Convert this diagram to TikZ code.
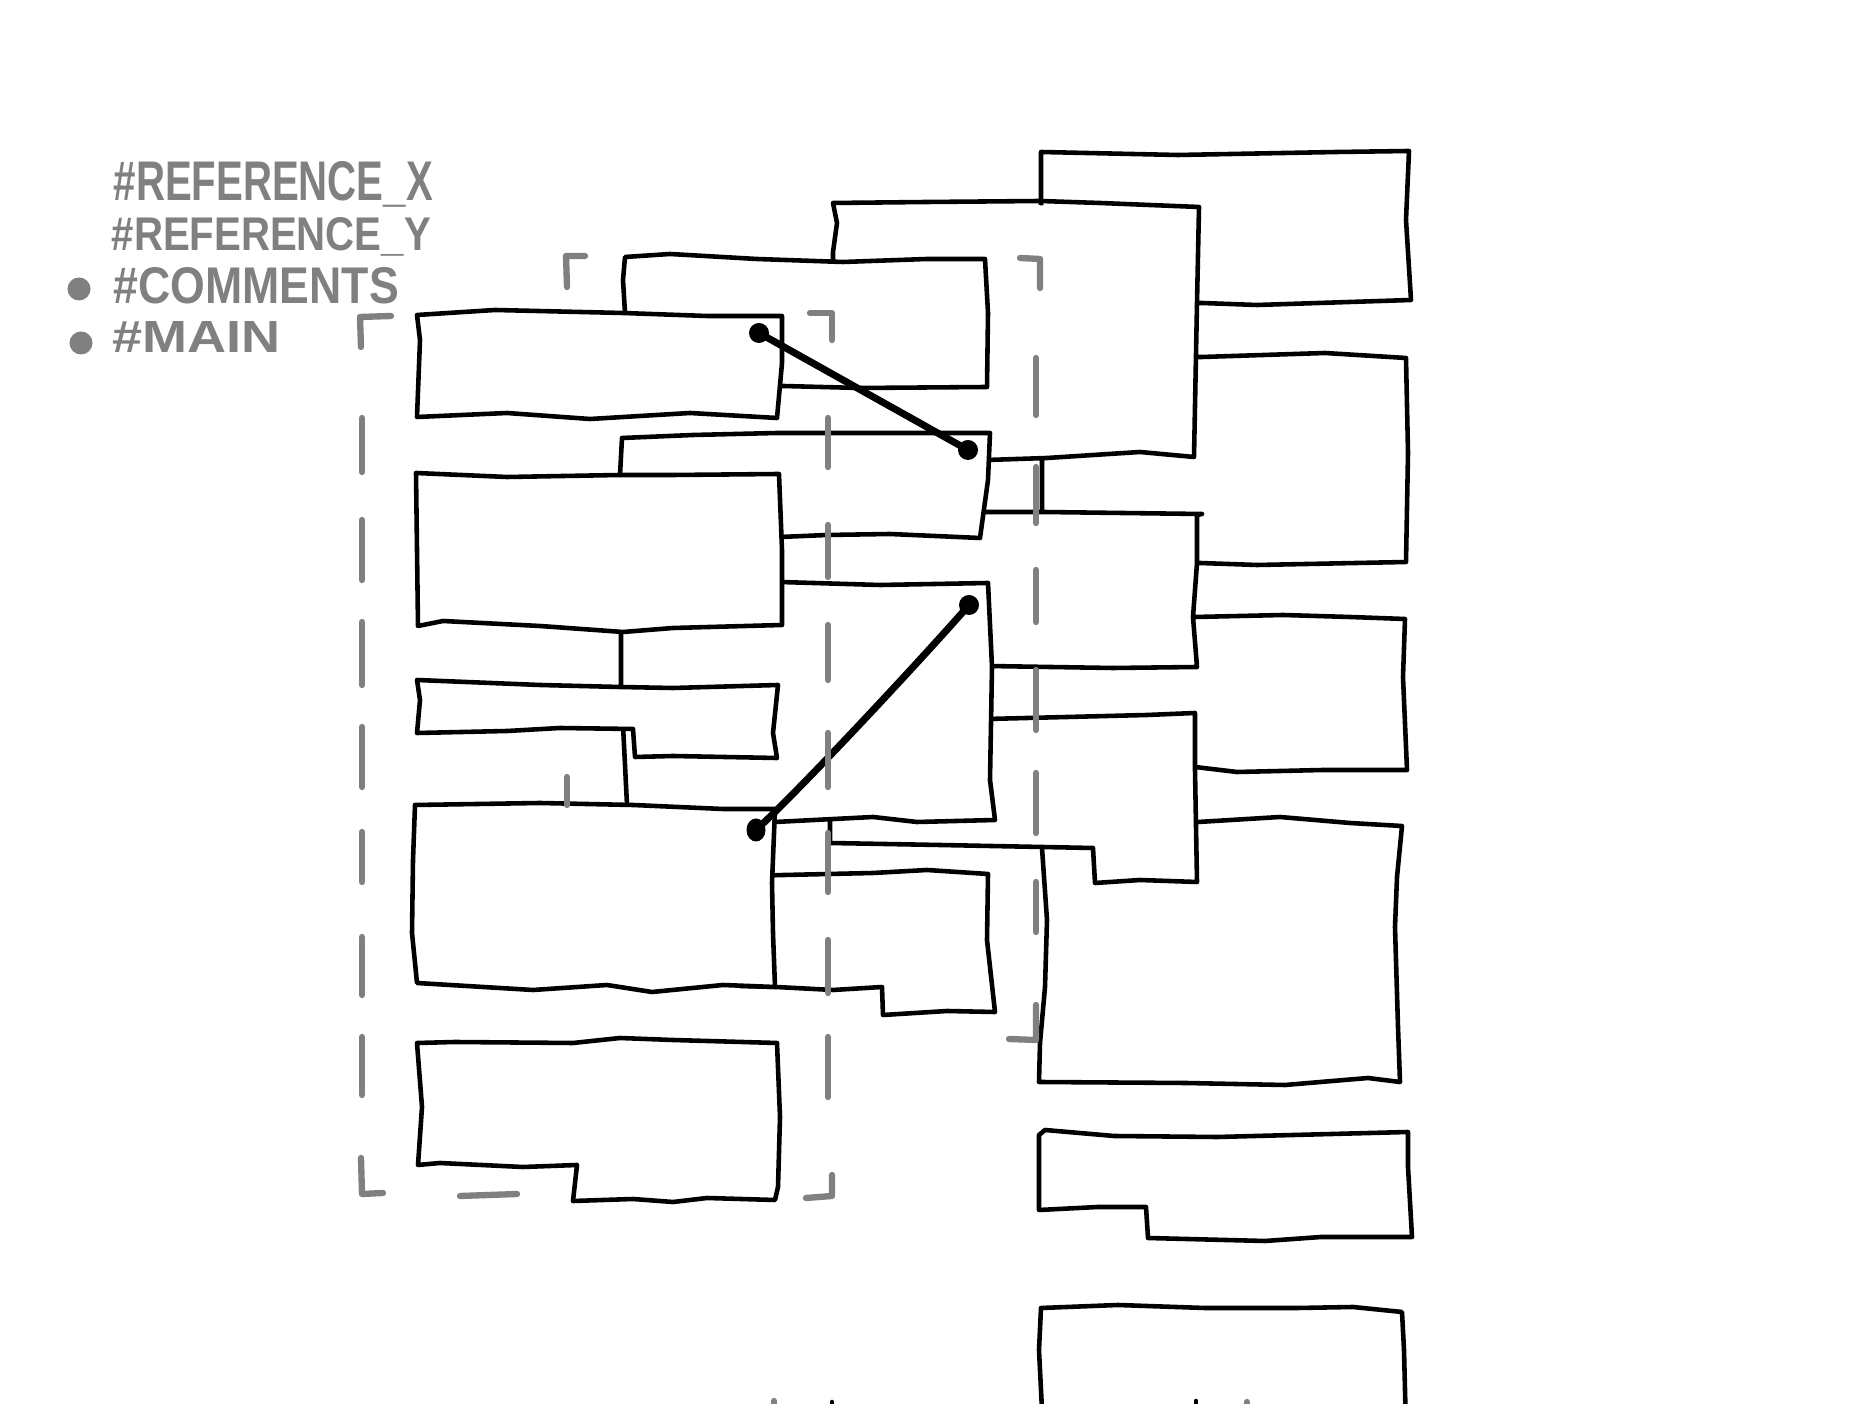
\documentclass[tikz,border=0pt]{standalone}
\usepackage{fontspec}
\usetikzlibrary{shapes.geometric}
\newfontfamily\legendfont{Liberation Sans}
\definecolor{sketchgray}{gray}{0.5}
\begin{document}
\begin{tikzpicture}[x=0.01cm,y=-0.01cm,
  sketchbox/.style={draw=black,fill=white,line width=1.3pt,line join=round,line cap=round},
  boxline/.style={draw=black,line width=1.3pt,line join=round,line cap=round},
  whitefill/.style={fill=white},
  grayline/.style={draw=sketchgray,line width=1.8pt,line cap=round,line join=round},
  link/.style={draw=black,line width=2pt,line cap=round},
  linkdot/.style={circle,fill=black,inner sep=0pt,minimum size=0.2cm},
  legenddot/.style={circle,fill=sketchgray,inner sep=0pt,minimum size=0.23cm},
  legendtext/.style={text=sketchgray,inner sep=0pt,anchor=base west,font=\legendfont\bfseries}]

\useasboundingbox (0,0) rectangle (1872,1404);
\clip (0,0) rectangle (1872,1404);

% ---------- right column, back layers ----------
% R1
\path[sketchbox] (1041,152) -- (1178,155) -- (1337,152) -- (1409,151) -- (1406,220) -- (1411,300)
  -- (1257,305) -- (1202,303) -- (1100,304) -- (1041,302) -- cycle;
% R2
\path[sketchbox] (1042,357) -- (1202,357) -- (1325,353) -- (1406,358) -- (1408,453) -- (1406,562)
  -- (1257,565) -- (1200,563) -- (1042,563) -- cycle;
% Box B (fill, then open outline)
\path[whitefill] (833,203) -- (1199,207) -- (1194,457) -- (833,458) -- cycle;
\path[boxline] (833,300) -- (833,252) -- (837,223) -- (833,203) -- (927,202) -- (1040,201)
  -- (1100,203) -- (1199,207) -- (1197,303) -- (1194,457) -- (1140,452) -- (1047,458)
  -- (987,460) -- (900,459);
% R3
\path[sketchbox] (900,617) -- (1195,617) -- (1283,615) -- (1350,617) -- (1405,619) -- (1403,677)
  -- (1407,770) -- (1323,770) -- (1237,772) -- (1195,767) -- (900,768) -- cycle;
% R big
\path[sketchbox] (1042,821) -- (1198,822) -- (1280,817) -- (1350,823) -- (1402,826) -- (1397,877)
  -- (1395,927) -- (1398,1027) -- (1400,1082) -- (1368,1078) -- (1285,1085) -- (1186,1083)
  -- (1039,1082) -- (1040,1043) -- (1045,987) -- (1047,920) -- (1042,848) -- cycle;

% ---------- middle column ----------
% M4
\path[sketchbox] (700,513) -- (990,512) -- (1043,512) -- (1202,514) -- (1197,515) -- (1197,563)
  -- (1193,617) -- (1197,667) -- (1113,668) -- (988,666) -- (700,668) -- cycle;
% M6
\path[sketchbox] (830,718) -- (987,719) -- (1147,715) -- (1195,713) -- (1195,770) -- (1197,882)
  -- (1140,880) -- (1095,883) -- (1093,848) -- (1042,847) -- (940,845) -- (830,843) -- cycle;
% M3
\path[sketchbox] (621,583) -- (780,582) -- (880,585) -- (988,583) -- (992,667) -- (990,780)
  -- (995,820) -- (917,822) -- (873,817) -- (775,822) -- (627,821) -- (627,805) -- (621,685) -- cycle;
% M5
\path[sketchbox] (740,876) -- (873,873) -- (927,870) -- (988,874) -- (987,940) -- (995,1012)
  -- (947,1011) -- (883,1015) -- (882,987) -- (833,990) -- (776,987) -- (740,986) -- cycle;
% M1
\path[sketchbox] (625,257) -- (670,254) -- (757,259) -- (843,262) -- (927,259) -- (985,259)
  -- (988,313) -- (987,387) -- (860,388) -- (783,386) -- (625,388) -- (625,313) -- (623,280) -- cycle;
% M2
\path[sketchbox] (622,438) -- (693,435) -- (777,433) -- (860,433) -- (990,433) -- (988,480)
  -- (980,538) -- (890,534) -- (827,535) -- (780,537) -- (622,537) -- (620,475) -- cycle;

% ---------- left column ----------
% L1
\path[sketchbox] (417,315) -- (495,310) -- (623,313) -- (707,316) -- (782,316) -- (782,363)
  -- (777,418) -- (690,413) -- (590,419) -- (507,413) -- (417,417) -- (420,340) -- cycle;
% L2
\path[sketchbox] (416,473) -- (507,477) -- (620,475) -- (673,475) -- (779,474) -- (782,550)
  -- (782,625) -- (673,628) -- (623,632) -- (540,626) -- (443,621) -- (418,626) -- (417,550) -- cycle;
% L3
\path[sketchbox] (417,680) -- (540,685) -- (620,687) -- (673,688) -- (778,685) -- (773,733)
  -- (777,758) -- (673,756) -- (635,757) -- (633,729) -- (560,728) -- (507,731) -- (417,733)
  -- (420,700) -- cycle;
% L4
\path[sketchbox] (415,805) -- (540,803) -- (633,805) -- (723,809) -- (775,809) -- (772,883)
  -- (773,933) -- (775,987) -- (723,985) -- (652,992) -- (607,985) -- (533,990) -- (417,983)
  -- (412,933) -- (413,860) -- cycle;
% L5
\path[sketchbox] (417,1043) -- (455,1042) -- (573,1043) -- (620,1038) -- (673,1040) -- (777,1043)
  -- (780,1117) -- (778,1187) -- (775,1200) -- (707,1198) -- (673,1202) -- (633,1199) -- (573,1201)
  -- (577,1165) -- (523,1167) -- (440,1163) -- (418,1165) -- (422,1107) -- cycle;

% ---------- right column, lower ----------
% R5
\path[sketchbox] (1039,1135) -- (1045,1130) -- (1114,1136) -- (1217,1137) -- (1408,1132) -- (1408,1167)
  -- (1412,1237) -- (1321,1237) -- (1265,1241) -- (1148,1238) -- (1146,1207) -- (1098,1207)
  -- (1039,1210) -- cycle;
% R6 (runs off the bottom)
\path[sketchbox] (1043,1430) -- (1039,1350) -- (1041,1308) -- (1118,1305) -- (1205,1308) -- (1297,1308)
  -- (1353,1307) -- (1402,1312) -- (1404,1350) -- (1406,1430);

% ---------- connectors ----------
\node[linkdot] (c1a) at (759,333) {};
\node[linkdot] (c1b) at (968,450) {};
\node[linkdot] (c2a) at (969,605) {};
\node[linkdot, ellipse, minimum width=0.19cm, minimum height=0.23cm] (c2b) at (756,830) {};
\draw[link] (c1a.center) -- (c1b.center);
\draw[link] (c2a.center) .. controls (930,650) and (800,790) .. (c2b.center);

% ---------- dashed group frames (gray) ----------
% group 1
\draw[grayline] (391,316) -- (360,317) -- (361,347);
\foreach \a/\b in {418/472, 520/580, 622/685, 727/787, 832/882, 937/995, 1037/1095}
  \draw[grayline] (362,\a) -- (362,\b);
\draw[grayline] (361,1158) -- (362,1194) -- (383,1193);
\draw[grayline] (460,1196) -- (517,1194);
\draw[grayline] (806,1198) -- (832,1196) -- (832,1175);
\foreach \a/\b in {418/467, 525/577, 625/680, 733/787, 833/892, 940/993, 1037/1097}
  \draw[grayline] (828,\a) -- (828,\b);
\draw[grayline] (810,313) -- (832,313) -- (832,340);
% group 2
\draw[grayline] (585,256) -- (566,256) -- (567,287);
\draw[grayline] (1020,258) -- (1040,259) -- (1040,288);
\foreach \a/\b in {358/415, 467/523, 570/622, 670/730, 773/833, 882/932}
  \draw[grayline] (1036,\a) -- (1036,\b);
\draw[grayline] (1036,1005) -- (1036,1040) -- (1009,1039);
\draw[grayline] (567,777) -- (567,805);
% tiny marks at the bottom edge
\draw[grayline] (774,1401) -- (774,1406);
\draw[boxline] (832,1402) -- (832,1406);
\draw[boxline] (1196,1401) -- (1196,1406);
\draw[grayline] (1247,1402) -- (1247,1406);

% ---------- legend ----------
\node[legendtext] (t1) at (113,201) {\resizebox{3.19cm}{0.39cm}{\#REFERENCE\_X}};
\node[legendtext] (t2) at (111,251) {\resizebox{3.19cm}{0.33cm}{\#REFERENCE\_Y}};
\node[legenddot] (d1) at (79,289) {};
\node[legendtext] (t3) at (113,304) {\resizebox{2.85cm}{0.36cm}{\#COMMENTS}};
\node[legenddot] (d2) at (81,343) {};
\node[legendtext] (t4) at (112,353) {\resizebox{1.68cm}{0.31cm}{\#MAIN}};
\end{tikzpicture}
\end{document}
